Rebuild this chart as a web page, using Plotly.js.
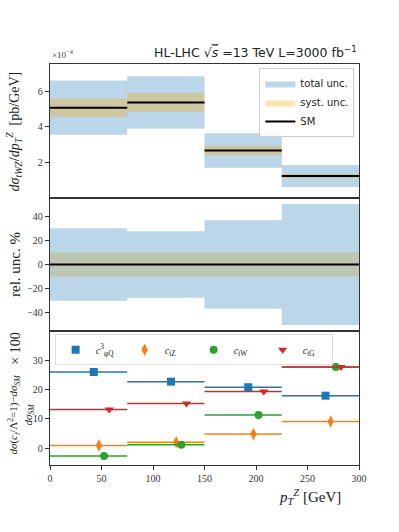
<!DOCTYPE html>
<html>
<head>
<meta charset="utf-8">
<script src="https://cdn.plot.ly/plotly-3.0.1.min.js"></script>
<style>
  body { margin: 0; background: #fff; }
  #plot { width: 399px; height: 532px; }
</style>
</head>
<body>
<div id="plot"></div>
<script>
// bins in pT^Z [GeV]
var binLo = [0, 75, 150, 225];
var binHi = [75, 150, 225, 300];

// top panel, in units of 1e-4 pb/GeV
var smXsec = [5.07, 5.36, 2.66, 1.23];
// relative uncertainties in %
var totUnc = [30, 27.5, 36.5, 50];
var systUnc = [10, 10, 10, 10];

// bottom panel, deviation from SM in %
var opNames = ["<i>c</i><sup>3</sup><sub>φQ</sub>", "<i>c</i><sub>tZ</sub>", "<i>c</i><sub>tW</sub>", "<i>c</i><sub>tG</sub>"];
var opColors = ["#1f77b4", "#ff7f0e", "#2ca02c", "#d62728"];
var opSymbols = ["square", "diamond-tall", "circle", "triangle-down"];
var opShift = [5, 10, 15, 20];
var devCphiQ = [26.0, 22.7, 20.8, 17.9];
var devCtZ = [0.9, 2.0, 4.8, 9.1];
var devCtW = [-2.7, 1.1, 11.3, 27.7];
var devCtG = [13.2, 15.2, 19.3, 27.7];
var devAll = [devCphiQ, devCtZ, devCtW, devCtG];

var serif = "Liberation Serif, DejaVu Serif, serif";
var sans = "DejaVu Sans, sans-serif";

function boxes(top, bottom) {
  var xs = [], ys = [];
  for (var i = 0; i < binLo.length; i++) {
    xs.push(binLo[i], binHi[i], binHi[i], binLo[i], binLo[i], null);
    ys.push(top[i], top[i], bottom[i], bottom[i], top[i], null);
  }
  return {x: xs, y: ys};
}

function steps(vals) {
  var xs = [], ys = [];
  for (var i = 0; i < binLo.length; i++) {
    xs.push(binLo[i], binHi[i], null);
    ys.push(vals[i], vals[i], null);
  }
  return {x: xs, y: ys};
}

var blue = "rgba(31,119,180,0.3)";
var orange = "rgba(255,165,0,0.3)";

var data = [];

// top panel
var totBox = boxes(smXsec.map((v, i) => v * (1 + totUnc[i] / 100)), smXsec.map((v, i) => v * (1 - totUnc[i] / 100)));
data.push({x: totBox.x, y: totBox.y, type: "scatter", mode: "lines", fill: "toself", fillcolor: blue,
  line: {width: 0, color: blue}, name: "total unc.", legend: "legend", xaxis: "x3", yaxis: "y3", hoverinfo: "skip"});
var sysBox = boxes(smXsec.map((v, i) => v * (1 + systUnc[i] / 100)), smXsec.map((v, i) => v * (1 - systUnc[i] / 100)));
data.push({x: sysBox.x, y: sysBox.y, type: "scatter", mode: "lines", fill: "toself", fillcolor: orange,
  line: {width: 0, color: orange}, name: "syst. unc.", legend: "legend", xaxis: "x3", yaxis: "y3", hoverinfo: "skip"});
var smStep = steps(smXsec);
data.push({x: smStep.x, y: smStep.y, type: "scatter", mode: "lines", line: {color: "black", width: 2},
  name: "SM", legend: "legend", xaxis: "x3", yaxis: "y3"});

// middle panel
var relTot = boxes(totUnc, totUnc.map(v => -v));
data.push({x: relTot.x, y: relTot.y, type: "scatter", mode: "lines", fill: "toself", fillcolor: blue,
  line: {width: 0, color: blue}, showlegend: false, xaxis: "x2", yaxis: "y2", hoverinfo: "skip"});
var relSys = boxes(systUnc, systUnc.map(v => -v));
data.push({x: relSys.x, y: relSys.y, type: "scatter", mode: "lines", fill: "toself", fillcolor: "rgba(190,175,100,0.4)",
  line: {width: 0, color: "rgba(0,0,0,0)"}, showlegend: false, xaxis: "x2", yaxis: "y2", hoverinfo: "skip"});
data.push({x: [0, 300], y: [0, 0], type: "scatter", mode: "lines", line: {color: "black", width: 2},
  showlegend: false, xaxis: "x2", yaxis: "y2"});

// bottom panel
for (var k = 0; k < devAll.length; k++) {
  var xs = binLo.map((lo, i) => (lo + binHi[i]) / 2 + opShift[k]);
  data.push({
    x: xs, y: devAll[k], type: "scatter", mode: "markers",
    marker: {symbol: opSymbols[k], color: opColors[k], size: k == 1 ? 9 : 8},
    error_x: {type: "data", symmetric: false,
      array: xs.map((x, i) => binHi[i] - x), arrayminus: xs.map((x, i) => x - binLo[i]),
      color: opColors[k], thickness: 1.5, width: 0},
    name: opNames[k], legend: "legend2", xaxis: "x", yaxis: "y"
  });
}

var axBase = {
  showline: true, mirror: true, linecolor: "#333", linewidth: 1.2,
  ticks: "outside", ticklen: 4, tickcolor: "#333",
  showgrid: false, zeroline: false,
  tickfont: {family: serif, size: 10, color: "#333"}
};

var layout = {
  width: 399, height: 532,
  margin: {l: 50, r: 40, t: 64, b: 67},
  paper_bgcolor: "white", plot_bgcolor: "white",
  xaxis: Object.assign({}, axBase, {range: [0, 300], tickvals: [0, 50, 100, 150, 200, 250, 300], anchor: "y"}),
  xaxis2: Object.assign({}, axBase, {range: [0, 300], anchor: "y2", matches: "x", showticklabels: false, ticks: ""}),
  xaxis3: Object.assign({}, axBase, {range: [0, 300], anchor: "y3", matches: "x", showticklabels: false, ticks: ""}),
  yaxis: Object.assign({}, axBase, {domain: [0, 0.334], range: [-5.8, 40], tickvals: [0, 10, 20, 30], anchor: "x"}),
  yaxis2: Object.assign({}, axBase, {domain: [0.334, 0.666], range: [-55, 55], tickvals: [-40, -20, 0, 20, 40],
    ticktext: ["−40", "−20", "0", "20", "40"], anchor: "x2"}),
  yaxis3: Object.assign({}, axBase, {domain: [0.666, 1], range: [0, 7.52], tickvals: [2, 4, 6], anchor: "x3"}),
  legend: {
    x: 0.985, y: 0.99, xanchor: "right", yanchor: "top",
    bgcolor: "rgba(255,255,255,0.85)", bordercolor: "#ccc", borderwidth: 1,
    font: {family: sans, size: 10, color: "#222"}, tracegroupgap: 0, itemwidth: 30
  },
  legend2: {
    x: 0.015, y: 0.326, xanchor: "left", yanchor: "top", orientation: "h",
    bgcolor: "rgba(255,255,255,0.85)", bordercolor: "#ddd", borderwidth: 1,
    font: {family: serif, size: 10.5, color: "#222"}, itemwidth: 30,
    entrywidth: 24, entrywidthmode: "pixels"
  },
  annotations: [
    {text: "HL-LHC √<span style='text-decoration:overline'><i>s</i></span> =13 TeV L=3000 fb<sup>−1</sup>",
      xref: "paper", yref: "paper", x: 1, y: 1.005, xanchor: "right", yanchor: "bottom", showarrow: false,
      font: {family: sans, size: 12.5, color: "#222"}},
    {text: "×10<sup>−4</sup>", xref: "paper", yref: "paper", x: 0, y: 1.005, xanchor: "left", yanchor: "bottom",
      showarrow: false, font: {family: serif, size: 9, color: "#333"}},
    {text: "<i>dσ<sub>tWZ</sub></i>/<i>dp<sub>T</sub><sup>Z</sup></i>  [pb/GeV]", xref: "paper", yref: "paper",
      x: -0.115, y: 0.833, textangle: -90, showarrow: false, xanchor: "center", yanchor: "middle",
      font: {family: serif, size: 14, color: "#222"}},
    {text: "rel. unc. %", xref: "paper", yref: "paper", x: -0.115, y: 0.5, textangle: -90, showarrow: false,
      xanchor: "center", yanchor: "middle", font: {family: serif, size: 15, color: "#222"}},
    {text: "<i>dσ</i>(<i>c<sub>i</sub></i>/Λ<sup>2</sup>=1)−<i>dσ<sub>SM</sub></i><br><i>dσ<sub>SM</sub></i>", xref: "paper", yref: "paper",
      x: -0.095, y: 0.125, textangle: -90, showarrow: false, xanchor: "center", yanchor: "middle",
      font: {family: serif, size: 11, color: "#222"}},
    {text: "× 100", xref: "paper", yref: "paper", x: -0.11, y: 0.29, textangle: -90, showarrow: false,
      xanchor: "center", yanchor: "middle", font: {family: serif, size: 14, color: "#222"}},
    {text: "<i>p<sub>T</sub><sup>Z</sup></i> [GeV]", xref: "paper", yref: "paper", x: 0.84, y: -0.05,
      xanchor: "center", yanchor: "top", showarrow: false, font: {family: serif, size: 15, color: "#222"}}
  ]
};

Plotly.newPlot("plot", data, layout, {displayModeBar: false, staticPlot: true});
</script>
</body>
</html>
